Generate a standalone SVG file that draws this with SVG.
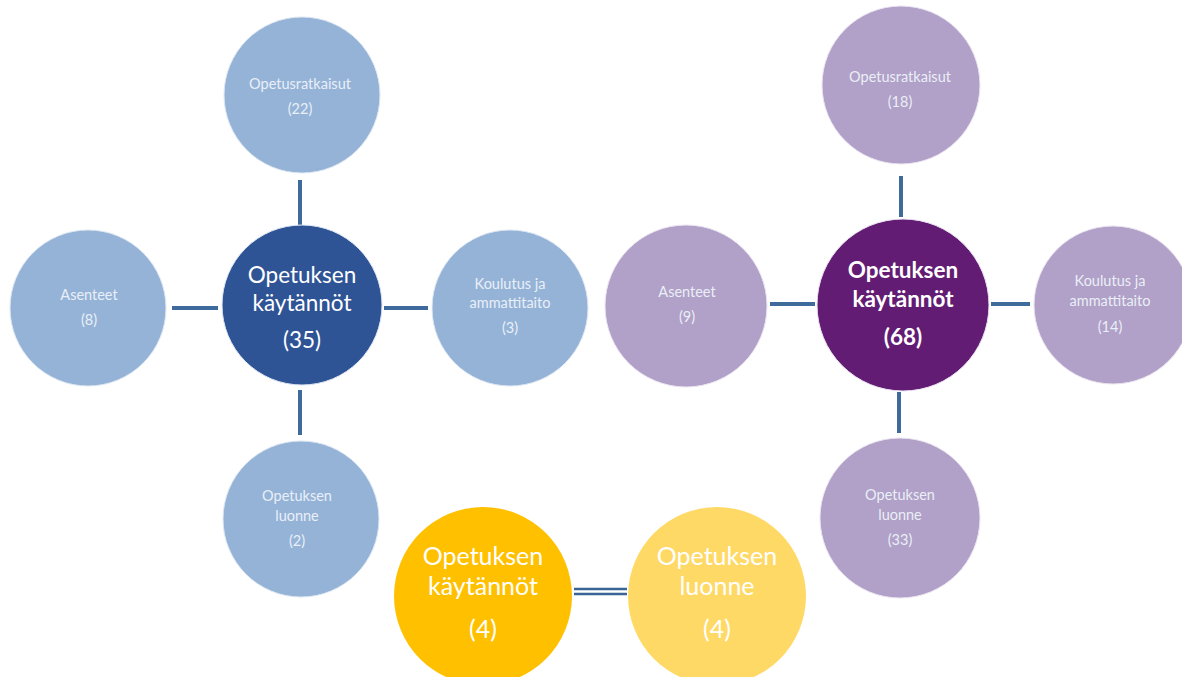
<svg xmlns="http://www.w3.org/2000/svg" width="1182" height="677" viewBox="0 0 1182 677">
  <style>
    .bg { fill: #ffffff; }
    .sat-blue { fill: #95B3D7; stroke: #dfe8f3; stroke-width: 1; }
    .hub-blue { fill: #2F5496; stroke: #dfe8f3; stroke-width: 1; }
    .sat-purple { fill: #B1A0C7; stroke: #ece6f2; stroke-width: 1; }
    .hub-purple { fill: #621C73; stroke: #ece6f2; stroke-width: 1; }
    .hub-gold { fill: #FFC000; }
    .sat-gold { fill: #FFD966; }
    .link { stroke: #3E6B9B; stroke-width: 4; fill: none; }
    .link-thin { stroke: #3A6396; stroke-width: 2.6; fill: none; }
    .small { font-family: Lato, "Open Sans", "Liberation Sans", sans-serif; font-size: 14.5px; fill: #e9eff7; text-anchor: middle; }
    .hub { font-family: Lato, "Open Sans", "Liberation Sans", sans-serif; font-size: 22.5px; fill: #ffffff; text-anchor: middle; }
    .hub-bold { font-family: Lato, "Open Sans", "Liberation Sans", sans-serif; font-size: 22.5px; font-weight: bold; fill: #ffffff; text-anchor: middle; }
    .gold { font-family: Lato, "Open Sans", "Liberation Sans", sans-serif; font-size: 25px; fill: #ffffff; text-anchor: middle; }
  </style>
  <rect class="bg" x="0" y="0" width="1182" height="677"/>

  <!-- connectors -->
  <g id="connectors">
    <line class="link" x1="300" y1="180" x2="300" y2="225"/>
    <line class="link" x1="172" y1="308" x2="218" y2="308"/>
    <line class="link" x1="384" y1="308" x2="428" y2="308"/>
    <line class="link" x1="300" y1="390" x2="300" y2="435"/>

    <line class="link" x1="901" y1="176" x2="901" y2="217"/>
    <line class="link" x1="770" y1="304" x2="815" y2="304"/>
    <line class="link" x1="991" y1="304" x2="1030" y2="304"/>
    <line class="link" x1="899" y1="392" x2="899" y2="433"/>

    <line class="link-thin" x1="574" y1="589" x2="627" y2="589"/>
    <line class="link-thin" x1="574" y1="594" x2="627" y2="594"/>
  </g>

  <!-- left cluster -->
  <g id="left-top">
    <circle class="sat-blue" cx="302" cy="95" r="78"/>
    <text class="small" x="300" y="89">Opetusratkaisut</text>
    <text class="small" x="300" y="114">(22)</text>
  </g>
  <g id="left-hub">
    <circle class="hub-blue" cx="302" cy="305" r="80"/>
    <text class="hub" x="302" y="283">Opetuksen</text>
    <text class="hub" x="302" y="311">käytännöt</text>
    <text class="hub" x="302" y="348">(35)</text>
  </g>
  <g id="left-left">
    <circle class="sat-blue" cx="88" cy="308" r="78"/>
    <text class="small" x="89" y="300">Asenteet</text>
    <text class="small" x="89" y="325">(8)</text>
  </g>
  <g id="left-right">
    <circle class="sat-blue" cx="510" cy="308" r="78"/>
    <text class="small" x="510" y="289">Koulutus ja</text>
    <text class="small" x="510" y="308">ammattitaito</text>
    <text class="small" x="510" y="333">(3)</text>
  </g>
  <g id="left-bottom">
    <circle class="sat-blue" cx="301" cy="519" r="78"/>
    <text class="small" x="297" y="501">Opetuksen</text>
    <text class="small" x="297" y="521">luonne</text>
    <text class="small" x="297" y="546">(2)</text>
  </g>

  <!-- right cluster -->
  <g id="right-top">
    <circle class="sat-purple" cx="901" cy="85" r="79"/>
    <text class="small" x="900" y="82">Opetusratkaisut</text>
    <text class="small" x="900" y="107">(18)</text>
  </g>
  <g id="right-hub">
    <circle class="hub-purple" cx="903" cy="305" r="86"/>
    <text class="hub-bold" x="903" y="278">Opetuksen</text>
    <text class="hub-bold" x="903" y="307">käytännöt</text>
    <text class="hub-bold" x="903" y="345">(68)</text>
  </g>
  <g id="right-left">
    <circle class="sat-purple" cx="686" cy="306" r="81"/>
    <text class="small" x="687" y="297">Asenteet</text>
    <text class="small" x="687" y="322">(9)</text>
  </g>
  <g id="right-right">
    <circle class="sat-purple" cx="1113" cy="305" r="79"/>
    <text class="small" x="1110" y="286">Koulutus ja</text>
    <text class="small" x="1110" y="306">ammattitaito</text>
    <text class="small" x="1110" y="332">(14)</text>
  </g>
  <g id="right-bottom">
    <circle class="sat-purple" cx="900" cy="518" r="80"/>
    <text class="small" x="900" y="500">Opetuksen</text>
    <text class="small" x="900" y="520">luonne</text>
    <text class="small" x="900" y="545">(33)</text>
  </g>

  <!-- bottom pair -->
  <g id="gold-hub">
    <circle class="hub-gold" cx="483" cy="596" r="89"/>
    <text class="gold" x="483" y="565">Opetuksen</text>
    <text class="gold" x="483" y="595">käytännöt</text>
    <text class="gold" x="483" y="638">(4)</text>
  </g>
  <g id="gold-sat">
    <circle class="sat-gold" cx="717" cy="596" r="89"/>
    <text class="gold" x="717" y="565">Opetuksen</text>
    <text class="gold" x="717" y="595">luonne</text>
    <text class="gold" x="717" y="638">(4)</text>
  </g>
</svg>
